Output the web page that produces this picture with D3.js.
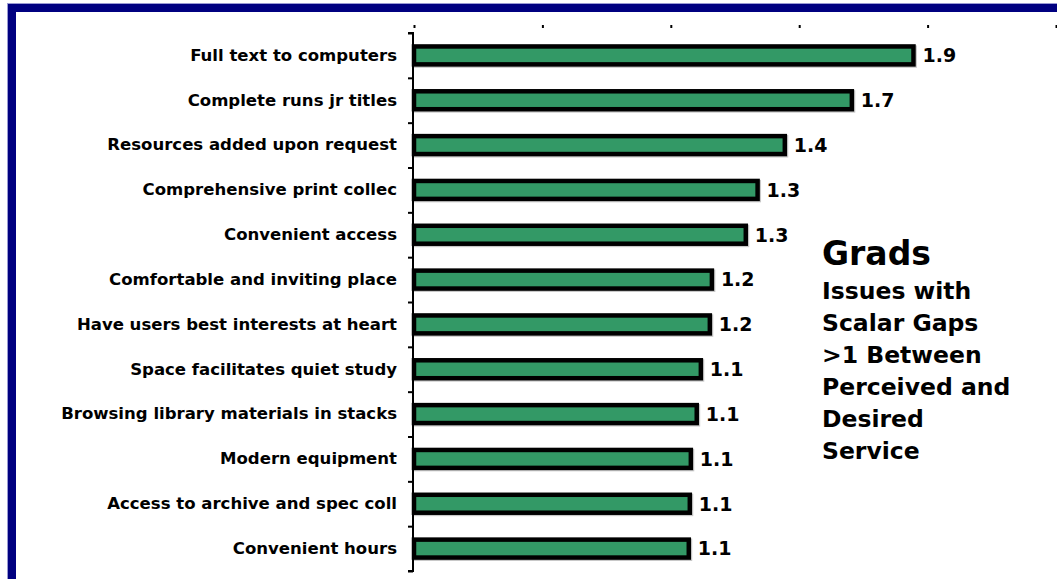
<!DOCTYPE html>
<html>
<head>
<meta charset="utf-8">
<script src="https://cdn.jsdelivr.net/npm/d3@7"></script>
<style>
  html, body { margin: 0; padding: 0; background: #ffffff; }
  svg { display: block; }
</style>
</head>
<body>
<svg id="chart" width="1057" height="579"></svg>
<script>
// Service issues, ordered by gap size (largest first)
const categories = [
  "Full text to computers",
  "Complete runs jr titles",
  "Resources added upon request",
  "Comprehensive print collec",
  "Convenient access",
  "Comfortable and inviting place",
  "Have users best interests at heart",
  "Space facilitates quiet study",
  "Browsing library materials in stacks",
  "Modern equipment",
  "Access to archive and spec coll",
  "Convenient hours"
];
// Gap between perceived and desired service
const gaps = [1.945, 1.705, 1.444, 1.338, 1.292, 1.16, 1.152, 1.117, 1.101, 1.078, 1.074, 1.07];
const xTicks = [0, 0.5, 1, 1.5, 2, 2.5];
const titleText = "Grads";
const subtitleLines = ["Issues with", "Scalar Gaps", ">1 Between", "Perceived and", "Desired", "Service"];

const W = 1057, H = 579;
const svg = d3.select("#chart");
const FONT = "'DejaVu Sans', Verdana, sans-serif";

// Slide frame: navy border with a light outer edge
svg.append("rect")
  .attr("x", 7.5).attr("y", 3.5)
  .attr("width", W + 20).attr("height", H + 20)
  .attr("fill", "none").attr("stroke", "#9a9ad4").attr("stroke-width", 1);
svg.append("rect")
  .attr("x", 12).attr("y", 8)
  .attr("width", W + 20).attr("height", H + 20)
  .attr("fill", "none").attr("stroke", "#000080").attr("stroke-width", 8);

// Scales
const x = d3.scaleLinear().domain([0, 2.5]).range([414, 1056]);
const y = d3.scaleBand().domain(categories).range([33, 571])
  .paddingInner(0.6).paddingOuter(0.3);
const yEdges = d3.scaleLinear().domain([0, categories.length]).range([33, 571]);

// Top value axis: tick marks only
const topAxis = svg.append("g")
  .attr("transform", "translate(0,28)")
  .call(d3.axisTop(x).tickValues(xTicks).tickSize(3).tickFormat(""));
topAxis.select(".domain").remove();
topAxis.selectAll(".tick line").attr("stroke", "#000").attr("stroke-width", 2);

// Bars with a faint drop shadow
const data = categories.map((c, i) => ({ cat: c, val: gaps[i] }));
const bars = svg.append("g");
bars.selectAll("rect.shadow").data(data).join("rect")
  .attr("class", "shadow")
  .attr("x", x(0) + 1.2).attr("y", d => y(d.cat) + 1.2)
  .attr("width", d => x(d.val) - x(0))
  .attr("height", y.bandwidth())
  .attr("fill", "none").attr("stroke", "#c8c8c8").attr("stroke-width", 4.5);
bars.selectAll("rect.bar").data(data).join("rect")
  .attr("class", "bar")
  .attr("x", x(0)).attr("y", d => y(d.cat))
  .attr("width", d => x(d.val) - x(0))
  .attr("height", y.bandwidth())
  .attr("fill", "#339966").attr("stroke", "#000").attr("stroke-width", 4.5);

// Value labels
svg.append("g").selectAll("text").data(data).join("text")
  .attr("x", d => x(d.val) + 9)
  .attr("y", d => y(d.cat) + y.bandwidth() / 2)
  .attr("dy", "0.36em")
  .attr("font-family", FONT).attr("font-size", 19).attr("font-weight", "bold")
  .attr("fill", "#000")
  .text(d => d3.format(".1f")(d.val));

// Category axis: line with ticks between categories
const edgeAxis = svg.append("g")
  .attr("transform", "translate(413,0)")
  .call(d3.axisLeft(yEdges).ticks(categories.length).tickSize(5).tickFormat(""));
edgeAxis.selectAll("path, line").attr("stroke", "#000").attr("stroke-width", 2);
edgeAxis.select(".domain").attr("d", `M-5,${yEdges(0)}H0V${yEdges(categories.length)}H-5`);

// Category labels
const labelAxis = svg.append("g")
  .attr("transform", "translate(413,0)")
  .call(d3.axisLeft(y).tickSize(0).tickPadding(16));
labelAxis.select(".domain").remove();
labelAxis.selectAll("text")
  .attr("font-family", FONT).attr("font-size", 16.55).attr("font-weight", "bold")
  .attr("fill", "#000");

// Side note
const note = svg.append("g").attr("font-family", FONT).attr("fill", "#000");
note.append("text")
  .attr("x", 822).attr("y", 265)
  .attr("font-size", 33).attr("font-weight", "bold")
  .text(titleText);
note.selectAll("text.sub").data(subtitleLines).join("text")
  .attr("class", "sub")
  .attr("x", 822).attr("y", (d, i) => 298.5 + i * 32)
  .attr("font-size", 23.5).attr("font-weight", "bold")
  .text(d => d);
</script>
</body>
</html>
